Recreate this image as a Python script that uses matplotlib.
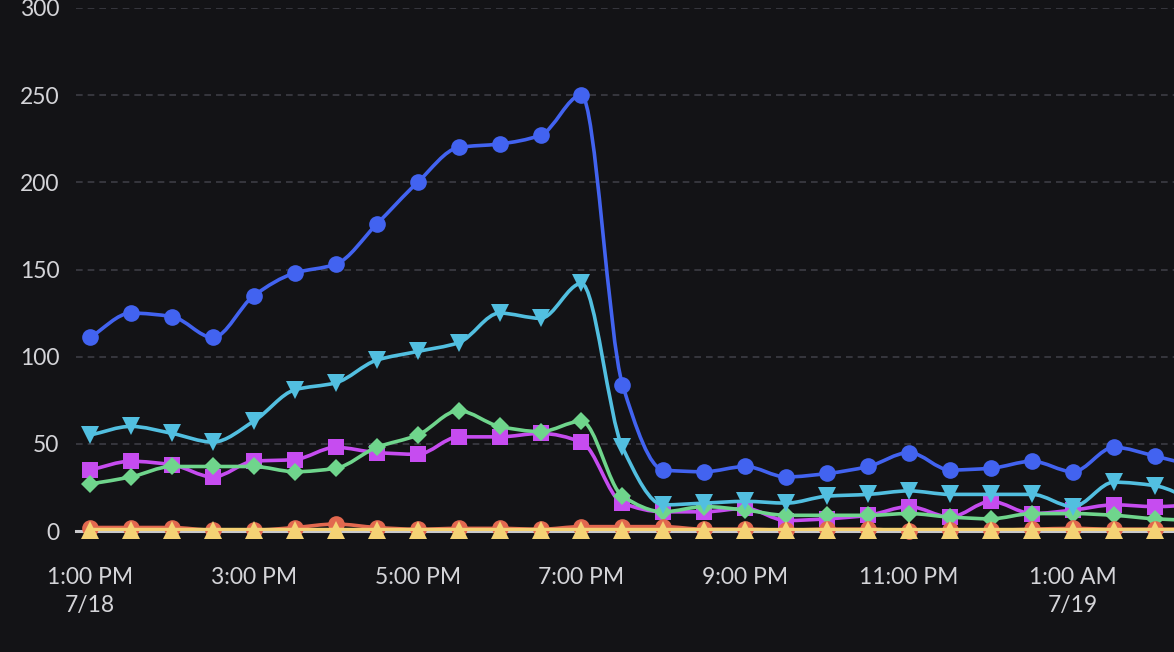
import matplotlib
matplotlib.use("Agg")
import matplotlib.pyplot as plt
import matplotlib.dates as mdates
from matplotlib.path import Path
from matplotlib.patches import PathPatch
import numpy as np
import pandas as pd


# half-hour samples, 7/18 1:00 PM .. 7/19 2:30 AM
times = pd.date_range("2023-07-18 13:00", "2023-07-19 02:30", freq="30min")

blue = [111, 125, 123, 111, 135, 148, 153, 176, 200, 220, 222, 227, 250, 84,
        35, 34, 37, 31, 33, 37, 45, 35, 36, 40, 34, 48, 43, 37]
cyan = [55, 60, 56, 51, 63, 81, 85, 98, 103, 108, 125, 122, 142, 48,
        15, 16, 17, 16, 20, 21, 23, 21, 21, 21, 14, 28, 26, 17]
magenta = [35, 40, 38, 31, 40, 41, 48, 45, 44, 54, 54, 56, 51, 16,
           11, 11, 13, 6, 7, 9, 14, 8, 17, 10, 12, 15, 14, 15]
green = [27, 31, 37, 37, 37, 34, 36, 48, 55, 69, 60, 57, 63, 20,
         11, 14, 12, 9, 9, 9, 10, 8, 7, 10, 10, 9, 7, 6]
red = [2, 2, 2, 0.5, 0.5, 2, 4, 2, 1, 1.5, 1.5, 1, 2.5, 2.5,
       2.5, 1, 1, 0.5, 1, 1, 0, 0.5, 0.5, 1, 1.5, 1, 1, 1]
yellow = [0.8] * len(times)

tick_times = pd.date_range("2023-07-18 13:00", "2023-07-19 01:00", freq="2h")
tick_labels = ["1:00 PM\n7/18", "3:00 PM", "5:00 PM", "7:00 PM",
               "9:00 PM", "11:00 PM", "1:00 AM\n7/19"]

BG = "#131316"
TXT = "#d4d4d8"


def smooth_path(x, y):
    # monotone cubic (fritsch-carlson) as bezier segments
    x = np.asarray(x, float)
    y = np.asarray(y, float)
    h = np.diff(x)
    d = np.diff(y) / h
    m = np.zeros_like(y)
    m[0] = d[0]
    m[-1] = d[-1]
    for k in range(1, len(y) - 1):
        if d[k - 1] * d[k] <= 0:
            m[k] = 0
        else:
            w1 = 2 * h[k] + h[k - 1]
            w2 = h[k] + 2 * h[k - 1]
            m[k] = (w1 + w2) / (w1 / d[k - 1] + w2 / d[k])
    verts = [(x[0], y[0])]
    codes = [Path.MOVETO]
    for k in range(len(x) - 1):
        verts += [(x[k] + h[k] / 3, y[k] + m[k] * h[k] / 3),
                  (x[k + 1] - h[k] / 3, y[k + 1] - m[k + 1] * h[k] / 3),
                  (x[k + 1], y[k + 1])]
        codes += [Path.CURVE4] * 3
    return Path(verts, codes)


fig = plt.figure(figsize=(11.74, 6.52), dpi=100, facecolor=BG)
ax = fig.add_axes([76 / 1174, 121 / 652, 1 - 76 / 1174, 523 / 652])
ax.set_facecolor(BG)

xs = mdates.date2num(times)

ax.axhline(0, color="#c9c9cc", lw=2.2, zorder=2, clip_on=False)

series = [
    (magenta, "#c64cf0", "s", 12),
    (green, "#6fd58c", "D", 9.5),
    (cyan, "#52bfe0", "v", 13),
    (blue, "#4263f0", "o", 12),
    (red, "#e2684f", "o", 12),
    (yellow, "#f4d274", "^", 13),
]
z = 3
for vals, col, mk, ms in series:
    ax.add_patch(PathPatch(smooth_path(xs, vals), fill=False, edgecolor=col,
                           lw=2.6, zorder=z, clip_on=True))
    ax.plot(xs, vals, ls="none", marker=mk, ms=ms, color=col,
            markeredgewidth=0, zorder=z + 0.5, clip_on=False)
    z += 1

left = mdates.date2num(pd.Timestamp("2023-07-18 12:49:45"))
right = mdates.date2num(pd.Timestamp("2023-07-19 02:14:00"))
ax.set_xlim(left, right)
ax.set_ylim(0, 300)

ax.set_yticks([0, 50, 100, 150, 200, 250, 300])
ax.yaxis.grid(True, color="#3c3c44", ls=(0, (4, 3)), lw=1.2)
ax.set_axisbelow(True)
ax.set_xticks(mdates.date2num(tick_times))
ax.set_xticklabels(tick_labels, linespacing=1.4)

for s in ax.spines.values():
    s.set_visible(False)
ax.tick_params(axis="both", length=0, colors=TXT, labelsize=16.5)
ax.tick_params(axis="x", pad=26)
ax.tick_params(axis="y", pad=12)
for lab in ax.get_xticklabels() + ax.get_yticklabels():
    lab.set_fontfamily("Lato")

fig.savefig("out.png", dpi=100, facecolor=BG)
